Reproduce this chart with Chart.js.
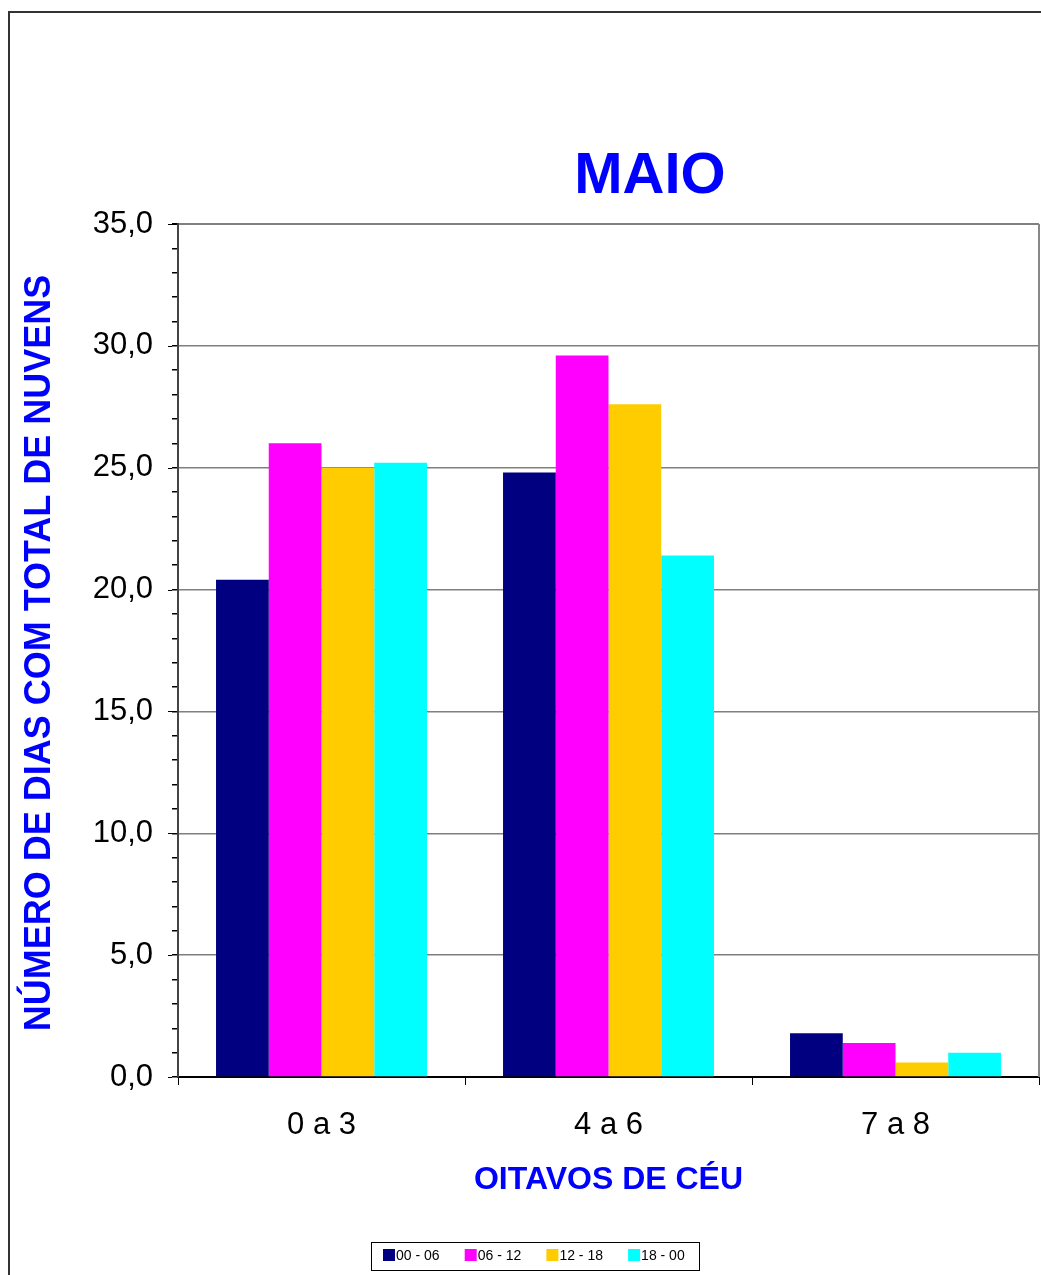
<!DOCTYPE html>
<html>
<head>
<meta charset="utf-8">
<script src="https://cdn.jsdelivr.net/npm/chart.js@4/dist/chart.umd.min.js"></script>
<style>
  html, body { margin: 0; padding: 0; background: #fff; }
  #wrap { width: 1041px; height: 1275px; }
</style>
</head>
<body>
<div id="wrap"><canvas id="c" width="1041" height="1275"></canvas></div>
<script>
// Cloud cover classes (oktas) and the four observation periods
const categories = ['0 a 3', '4 a 6', '7 a 8'];
const seriesLabels = ['00 - 06', '06 - 12', '12 - 18', '18 - 00'];
const s0006 = [20.4, 24.8, 1.8];
const s0612 = [26.0, 29.6, 1.4];
const s1218 = [25.0, 27.6, 0.6];
const s1800 = [25.2, 21.4, 1.0];
const seriesColors = ['#000080', '#FF00FF', '#FFCC00', '#00FFFF'];
const yMin = 0, yMax = 35, yMajorStep = 5, yMinorStep = 1;

const chartTitle = 'MAIO';
const xTitle = 'OITAVOS DE CÉU';
const yTitle = 'NÚMERO DE DIAS COM TOTAL DE NUVENS';

const FONT = '"Liberation Sans", Arial, sans-serif';
const BLUE = '#0000FF';

const seriesValues = [s0006, s0612, s1218, s1800];
const datasets = seriesLabels.map((lab, i) => ({
  label: lab,
  data: seriesValues[i],
  backgroundColor: seriesColors[i],
  borderWidth: 0,
  categoryPercentage: 0.735,
  barPercentage: 1.0
}));

const fmt = v => v.toFixed(1).replace('.', ',');

// Frame, titles, plot border, longer major ticks and boxed legend
const decorations = {
  id: 'decorations',
  beforeDraw(chart) {
    const ctx = chart.ctx;
    ctx.save();
    ctx.fillStyle = '#fff';
    ctx.fillRect(0, 0, chart.width, chart.height);
    // outer frame
    ctx.strokeStyle = '#333';
    ctx.lineWidth = 2;
    ctx.beginPath();
    ctx.moveTo(9, chart.height + 5);
    ctx.lineTo(9, 12);
    ctx.lineTo(chart.width + 5, 12);
    ctx.stroke();
    ctx.restore();
  },
  afterDraw(chart) {
    const ctx = chart.ctx;
    const a = chart.chartArea;
    const y = chart.scales.y;
    ctx.save();

    // right edge of the plot area
    ctx.strokeStyle = '#888';
    ctx.lineWidth = 2;
    ctx.beginPath();
    ctx.moveTo(a.right, a.top);
    ctx.lineTo(a.right, a.bottom);
    ctx.stroke();

    // major ticks stick out a bit further than minor ones
    ctx.strokeStyle = '#000';
    ctx.lineWidth = 1;
    for (let v = yMin; v <= yMax; v += yMajorStep) {
      const py = Math.round(y.getPixelForValue(v)) + 0.5;
      ctx.beginPath();
      ctx.moveTo(a.left - 10, py);
      ctx.lineTo(a.left - 6, py);
      ctx.stroke();
    }

    // chart title
    ctx.fillStyle = BLUE;
    ctx.textAlign = 'center';
    ctx.textBaseline = 'alphabetic';
    ctx.font = 'bold 58px ' + FONT;
    ctx.fillText(chartTitle, 650, 193);

    // x axis title
    ctx.font = 'bold 32px ' + FONT;
    ctx.fillText(xTitle, (a.left + a.right) / 2, 1189);

    // y axis title
    ctx.save();
    ctx.translate(50, 653);
    ctx.rotate(-Math.PI / 2);
    ctx.font = 'bold 36px ' + FONT;
    ctx.fillText(yTitle, 0, 0);
    ctx.restore();

    // legend
    const bx = 371, by = 1242, bw = 328, bh = 28;
    ctx.fillStyle = '#fff';
    ctx.fillRect(bx, by, bw, bh);
    ctx.strokeStyle = '#000';
    ctx.lineWidth = 1;
    ctx.strokeRect(bx + 0.5, by + 0.5, bw, bh);
    ctx.font = '14px ' + FONT;
    ctx.textAlign = 'left';
    ctx.textBaseline = 'middle';
    chart.data.datasets.forEach((ds, i) => {
      const x = 383 + i * 81.7;
      ctx.fillStyle = ds.backgroundColor;
      ctx.fillRect(x, 1249, 12, 12);
      ctx.fillStyle = '#000';
      ctx.fillText(ds.label, x + 13, 1256);
    });
    ctx.restore();
  }
};

new Chart(document.getElementById('c'), {
  type: 'bar',
  data: { labels: categories, datasets },
  options: {
    responsive: false,
    animation: false,
    devicePixelRatio: 1,
    layout: { padding: { top: 224, left: 0, right: 2, bottom: 138 } },
    plugins: {
      legend: { display: false },
      title: { display: false },
      tooltip: { enabled: false }
    },
    scales: {
      x: {
        afterFit: s => { s.height = 60; },
        grid: {
          offset: true,
          drawOnChartArea: false,
          drawTicks: true,
          tickLength: 8,
          color: '#000',
          lineWidth: 1
        },
        border: { display: true, color: '#000', width: 2 },
        ticks: {
          color: '#000',
          font: { family: FONT, size: 31 },
          padding: 22
        }
      },
      y: {
        min: yMin,
        max: yMax,
        afterFit: s => { s.width = 178; },
        afterBuildTicks: s => {
          const t = [];
          for (let v = yMin; v <= yMax; v += yMinorStep) t.push({ value: v });
          s.ticks = t;
        },
        grid: {
          color: c => (c.tick && c.tick.value % yMajorStep === 0 && c.tick.value !== 0) ? '#7f7f7f' : 'rgba(0,0,0,0)',
          lineWidth: c => (c.tick && c.tick.value === yMax) ? 2 : 1.5,
          tickColor: '#000',
          tickLength: 6,
          drawTicks: true
        },
        border: { display: true, color: '#444', width: 2 },
        ticks: {
          autoSkip: false,
          stepSize: yMinorStep,
          color: '#000',
          font: { family: FONT, size: 31 },
          padding: 19,
          callback: v => (v % yMajorStep === 0 ? fmt(v) : '')
        }
      }
    }
  },
  plugins: [decorations]
});
</script>
</body>
</html>
